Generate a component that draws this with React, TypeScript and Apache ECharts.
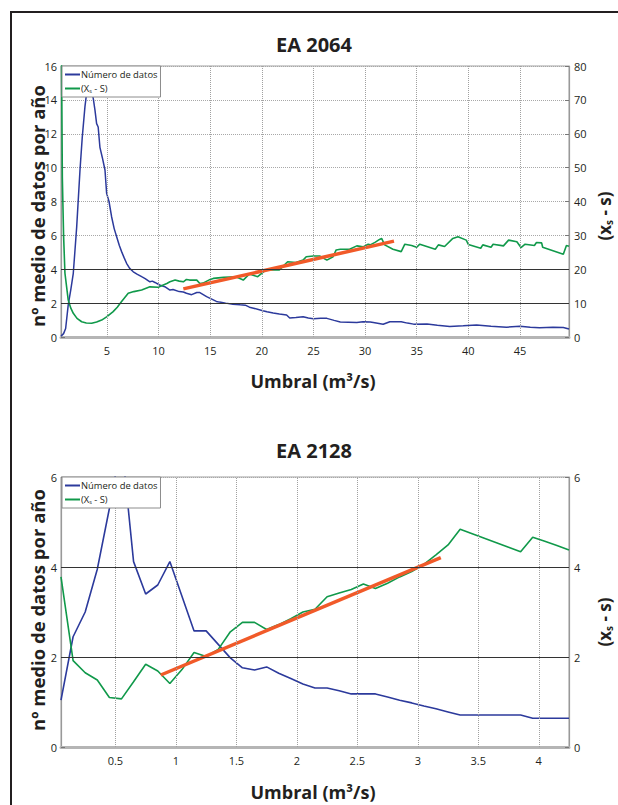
import React, { useEffect, useRef } from "react";
import * as echarts from "echarts";

const FONT = '"Open Sans", "Noto Sans", sans-serif';
const INK = "#231f20";
const BLUE = "#2c3a9c";
const GREEN = "#10994a";
const ORANGE = "#f15a29";

const BLUE_NAME = "Número de datos";
const GREEN_NAME = "(Xs - S)";

// ---------- EA 2064 ----------
const TOP_TITLE = "EA 2064";
const TOP_X_TICKS = [5, 10, 15, 20, 25, 30, 35, 40, 45];
const TOP_BLUE: [number, number][] = [
  [0.55, 0.05], [0.8, 0.2], [1.0, 0.5], [1.25, 1.9], [1.5, 2.8], [1.74, 3.76], [2.07, 6.5],
  [2.39, 9.86], [2.61, 11.8], [2.87, 13.6], [3.03, 14.4], [3.3, 14.7], [3.5, 14.5],
  [3.67, 14.1], [3.84, 13.4], [4.0, 12.6], [4.15, 12.4], [4.32, 11.2], [4.55, 10.6],
  [4.81, 9.86], [4.97, 8.48], [5.2, 8.0], [5.45, 7.1], [5.7, 6.4], [5.94, 5.92], [6.2, 5.4],
  [6.42, 5.04], [6.65, 4.7], [6.9, 4.35], [7.2, 4.05], [7.55, 3.85], [7.95, 3.7], [8.36, 3.56],
  [8.7, 3.45], [9.16, 3.26], [9.4, 3.3], [9.65, 3.22], [10.1, 3.07], [10.6, 2.97], [11.1, 2.77],
  [11.4, 2.8], [12.0, 2.68], [12.4, 2.66], [12.7, 2.58], [13.2, 2.5], [13.7, 2.63], [14.0, 2.62],
  [14.65, 2.38], [15.0, 2.28], [15.6, 2.1], [15.9, 2.06], [16.5, 2.0], [17.2, 1.94], [17.9, 1.9],
  [18.4, 1.88], [18.8, 1.76], [19.2, 1.7], [20.1, 1.55], [20.5, 1.49], [21.1, 1.42], [21.7, 1.36],
  [22.4, 1.3], [22.7, 1.12], [23.3, 1.15], [24.0, 1.2], [24.5, 1.12], [25.0, 1.08], [25.7, 1.1],
  [26.3, 1.1], [27.0, 0.98], [27.6, 0.88], [28.4, 0.87], [29.2, 0.85], [29.8, 0.9], [30.5, 0.88],
  [30.8, 0.85], [31.75, 0.75], [32.4, 0.9], [33.5, 0.9], [34.1, 0.82], [34.7, 0.76], [36.0, 0.77],
  [37.0, 0.7], [38.2, 0.62], [39.5, 0.66], [40.8, 0.71], [42.2, 0.63], [43.7, 0.58], [45.0, 0.64],
  [46.0, 0.57], [46.9, 0.55], [48.2, 0.57], [49.2, 0.56], [49.75, 0.47],
];
const TOP_GREEN: [number, number][] = [
  [0.55, 95], [0.6, 82], [0.68, 47], [0.8, 30], [0.93, 18.9], [1.25, 10.9], [1.5, 8.5],
  [1.74, 7.0], [2.1, 5.5], [2.55, 4.5], [3.0, 4.15], [3.52, 4.04], [4.0, 4.4], [4.49, 5.0],
  [5.0, 6.0], [5.6, 7.5], [6.0, 8.8], [6.4, 10.4], [7.06, 12.9], [7.6, 13.4], [8.36, 13.9],
  [9.16, 14.8], [9.97, 14.7], [10.4, 15.3], [10.8, 15.8], [11.1, 16.3], [11.6, 16.8], [12.0, 16.5],
  [12.4, 16.3], [12.7, 17.0], [13.0, 16.8], [13.7, 16.8], [14.0, 15.8], [14.3, 15.9], [15.0, 17.0],
  [15.3, 17.3], [16.3, 17.6], [17.5, 17.8], [18.2, 16.8], [18.8, 18.6], [19.6, 17.8], [20.4, 19.8],
  [21.7, 19.8], [22.5, 22.2], [23.3, 22.0], [24.0, 22.7], [24.3, 23.7], [25.0, 23.9], [25.6, 23.9],
  [26.3, 22.7], [26.9, 23.7], [27.2, 25.7], [27.6, 25.9], [28.5, 25.9], [29.2, 26.9], [29.8, 26.6],
  [30.3, 27.4], [30.5, 27.2], [31.0, 28.0], [31.4, 28.8], [31.6, 29.1], [31.9, 27.2], [32.7, 25.9],
  [33.5, 25.2], [33.85, 27.4], [34.5, 27.0], [35.0, 26.5], [35.3, 27.4], [36.8, 25.9], [37.1, 27.2],
  [37.7, 26.7], [38.5, 29.1], [39.0, 29.6], [39.8, 28.6], [40.0, 27.3], [41.2, 26.2], [41.4, 27.2],
  [42.2, 26.5], [42.4, 27.4], [43.4, 26.9], [43.9, 28.6], [44.7, 28.1], [45.1, 26.4], [45.5, 27.4],
  [46.4, 27.0], [46.6, 27.9], [47.1, 27.8], [47.2, 26.5], [49.2, 24.4], [49.5, 27.0], [49.75, 26.8],
];
const TOP_FIT: [number, number][] = [[12.4, 14.2], [32.8, 28.3]];

// ---------- EA 2128 ----------
const BOT_TITLE = "EA 2128";
const BOT_X_TICKS = [0.5, 1, 1.5, 2, 2.5, 3, 3.5, 4];
const BOT_X = [
  0.05, 0.15, 0.25, 0.35, 0.45, 0.55, 0.65, 0.75, 0.85, 0.95, 1.05, 1.15, 1.25, 1.35, 1.45,
  1.55, 1.65, 1.75, 1.85, 1.95, 2.05, 2.15, 2.25, 2.35, 2.45, 2.55, 2.65, 2.75, 2.85, 2.95,
  3.05, 3.15, 3.25, 3.35, 3.45, 3.55, 3.65, 3.75, 3.85, 3.95, 4.05, 4.15, 4.25,
];
const BOT_BLUE = [
  1.04, 2.45, 3.0, 3.95, 5.3, 6.8, 4.12, 3.4, 3.6, 4.12, 3.35, 2.58, 2.58, 2.28, 1.98,
  1.76, 1.71, 1.78, 1.64, 1.52, 1.4, 1.31, 1.31, 1.25, 1.18, 1.18, 1.18, 1.11, 1.04, 0.98,
  0.91, 0.85, 0.78, 0.71, 0.71, 0.71, 0.71, 0.71, 0.71, 0.64, 0.64, 0.64, 0.64,
];
const BOT_GREEN = [
  3.78, 1.92, 1.65, 1.49, 1.1, 1.07, 1.45, 1.84, 1.69, 1.41, 1.72, 2.1, 2.01, 2.17, 2.56,
  2.77, 2.77, 2.61, 2.72, 2.85, 3.0, 3.06, 3.34, 3.42, 3.5, 3.62, 3.52, 3.64, 3.78, 3.9,
  4.06, 4.27, 4.49, 4.84, 4.74, 4.64, 4.54, 4.44, 4.34, 4.66, 4.57, 4.48, 4.38,
];
const BOT_FIT: [number, number][] = [[0.875, 1.6], [3.19, 4.21]];

const Y_LABEL = "nº medio de datos por año";
const X_LABEL = "Umbral (m³/s)";

export default function App() {
  const ref = useRef<HTMLDivElement>(null);

  useEffect(() => {
    if (!ref.current) return;
    const chart = echarts.init(ref.current, undefined, { renderer: "svg" });

    const grids = [
      { left: 61, top: 66, width: 508, height: 271 },
      { left: 61, top: 477, width: 508, height: 270 },
    ];

    const xAxisBase = (idx: number, min: number, max: number, ticks: number[]) => ({
      type: "value",
      gridIndex: idx,
      min,
      max,
      axisLine: { show: true, onZero: false, lineStyle: { color: "#b5b5b5", width: 3 } },
      axisTick: { show: false, customValues: ticks },
      splitLine: { show: false },
      axisLabel: {
        customValues: ticks,
        color: INK,
        fontSize: 11,
        fontFamily: FONT,
        margin: 8,
      },
    });

    const yAxisBase = (idx: number, pos: "left" | "right", max: number, interval: number, split: boolean) => ({
      type: "value",
      gridIndex: idx,
      position: pos,
      min: 0,
      max,
      interval,
      axisLine: { show: true, lineStyle: { color: "#999", width: 1.2 } },
      axisTick: { show: true, inside: true, length: 4, lineStyle: { color: "#777" } },
      splitLine: split
        ? { show: true, lineStyle: { type: "dotted", color: "#a8a8a8", width: 1 } }
        : { show: false },
      axisLabel: {
        color: INK,
        fontSize: 11,
        fontFamily: FONT,
        margin: pos === "left" ? 4 : 5,
      },
    });

    const guideLines = (ticks: number[]) => ({
      silent: true,
      symbol: ["none", "none"],
      label: { show: false },
      animation: false,
      emphasis: { disabled: true },
      data: [
        ...ticks.map((v) => ({
          xAxis: v,
          lineStyle: { type: "dotted", color: "#a0a0a0", width: 1 },
        })),
        { yAxis: 2, lineStyle: { type: "solid", color: "#333", width: 1.2 } },
        { yAxis: 4, lineStyle: { type: "solid", color: "#333", width: 1.2 } },
      ],
    });

    const lineSeries = (name: string, xi: number, yi: number, data: any, color: string, width: number, extra: any = {}) => ({
      type: "line",
      name,
      xAxisIndex: xi,
      yAxisIndex: yi,
      data,
      symbol: "none",
      showSymbol: false,
      clip: true,
      lineStyle: { color, width },
      itemStyle: { color },
      emphasis: { disabled: true },
      ...extra,
    });

    const legendBase = (top: number) => ({
      data: [BLUE_NAME, GREEN_NAME],
      orient: "vertical",
      left: 62,
      top,
      icon: "rect",
      itemWidth: 15,
      itemHeight: 2,
      itemGap: 3,
      padding: [3, 3, 3, 3],
      backgroundColor: "#fff",
      borderColor: "#8c8c8c",
      borderWidth: 1,
      selectedMode: false,
      z: 10,
      formatter: (n: string) => (n === GREEN_NAME ? "(X{s|s} - S)" : n),
      textStyle: {
        color: INK,
        fontSize: 9.4,
        fontFamily: FONT,
        padding: [0, 0, 0, -4],
        lineHeight: 11,
        rich: { s: { fontSize: 5.5, fontFamily: FONT, color: INK, lineHeight: 11, padding: [4, 0, 0, 0] } },
      },
    });

    const txt = (text: string, x: number, y: number, size: number, rotation = 0, rich?: any) => ({
      type: "text",
      x,
      y,
      rotation,
      silent: true,
      style: {
        text,
        fill: INK,
        font: `bold ${size}px ${FONT}`,
        align: "center",
        verticalAlign: "middle",
        rich,
      },
    });

    const subRich = { s: { fontSize: 10, fontWeight: "bold", fontFamily: FONT, fill: INK, padding: [9, 0, 0, 0] } };

    chart.setOption({
      animation: false,
      backgroundColor: "#fff",
      grid: grids.map((g) => ({ ...g, show: true, borderColor: "#a0a0a0", borderWidth: 1, containLabel: false })),
      legend: [legendBase(66), legendBase(477)],
      xAxis: [
        xAxisBase(0, 0.55, 49.75, TOP_X_TICKS),
        xAxisBase(1, 0.05, 4.25, BOT_X_TICKS),
      ],
      yAxis: [
        yAxisBase(0, "left", 16, 2, true),
        yAxisBase(0, "right", 80, 10, false),
        yAxisBase(1, "left", 6, 2, true),
        yAxisBase(1, "right", 6, 2, false),
      ],
      series: [
        lineSeries(BLUE_NAME, 0, 0, TOP_BLUE, BLUE, 1.5, { markLine: guideLines(TOP_X_TICKS) }),
        lineSeries(GREEN_NAME, 0, 1, TOP_GREEN, GREEN, 1.6),
        lineSeries("fit1", 0, 1, TOP_FIT, ORANGE, 3.5),
        lineSeries(BLUE_NAME, 1, 2, BOT_X.map((x, i) => [x, BOT_BLUE[i]]), BLUE, 1.6, { markLine: guideLines(BOT_X_TICKS) }),
        lineSeries(GREEN_NAME, 1, 3, BOT_X.map((x, i) => [x, BOT_GREEN[i]]), GREEN, 1.6),
        lineSeries("fit2", 1, 3, BOT_FIT, ORANGE, 3.5),
      ],
      graphic: [
        {
          type: "rect",
          silent: true,
          shape: { x: 11, y: 12, width: 800, height: 900 },
          style: { fill: "none", stroke: INK, lineWidth: 2 },
        },
        txt(TOP_TITLE, 314, 44, 20),
        txt(BOT_TITLE, 314, 450, 20),
        txt(X_LABEL, 313, 381, 18),
        txt(X_LABEL, 313, 792, 18),
        txt(Y_LABEL, 37, 206, 18.5, Math.PI / 2),
        txt(Y_LABEL, 37, 610, 18.5, Math.PI / 2),
        txt("(x{s|s} - s)", 604, 216, 17, Math.PI / 2, subRich),
        txt("(x{s|s} - s)", 604, 622, 17, Math.PI / 2, subRich),
      ],
    });

    return () => chart.dispose();
  }, []);

  return (
    <div
      style={{ position: "absolute", left: 0, top: 0, width: 618, height: 805, background: "#fff" }}
    >
      <div ref={ref} style={{ width: 618, height: 805 }} />
    </div>
  );
}
